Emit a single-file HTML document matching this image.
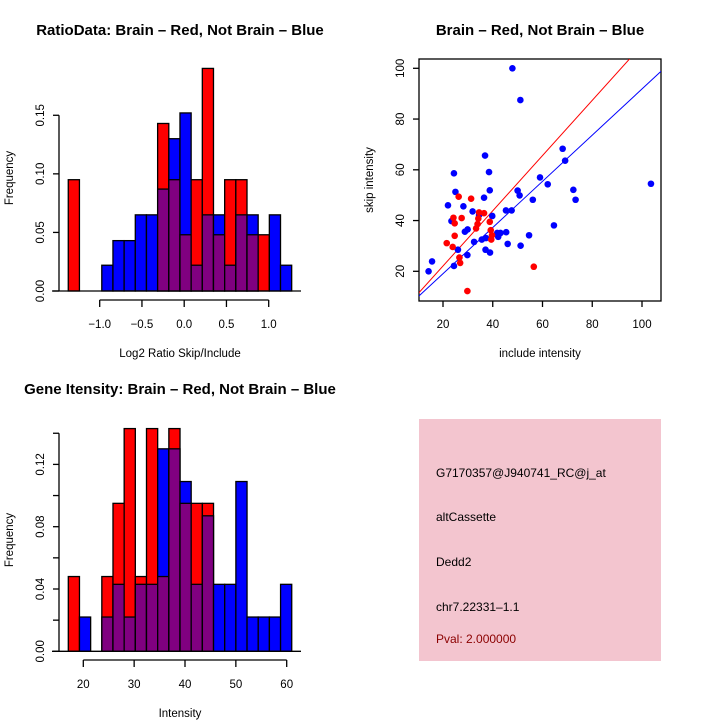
<!DOCTYPE html>
<html><head><meta charset="utf-8"><style>
html,body{margin:0;padding:0;background:#fff;}
svg{display:block;font-family:"Liberation Sans",sans-serif;}
</style></head><body>
<svg id="svg" width="720" height="720" viewBox="0 0 720 720" xmlns="http://www.w3.org/2000/svg">
<rect width="720" height="720" fill="#fff"/>
<text x="180" y="35" font-size="15" font-weight="bold" text-anchor="middle">RatioData: Brain – Red, Not Brain – Blue</text>
<text x="540" y="35" font-size="15" font-weight="bold" text-anchor="middle">Brain – Red, Not Brain – Blue</text>
<text x="180" y="394" font-size="15" font-weight="bold" text-anchor="middle">Gene Itensity: Brain – Red, Not Brain – Blue</text>
<text x="180" y="357" font-size="11.5" text-anchor="middle">Log2 Ratio Skip/Include</text>
<text transform="translate(13,178) rotate(-90)" font-size="11.5" text-anchor="middle">Frequency</text>
<text x="180" y="717" font-size="11.5" text-anchor="middle">Intensity</text>
<text transform="translate(13,540) rotate(-90)" font-size="11.5" text-anchor="middle">Frequency</text>
<text x="540" y="357" font-size="11.5" text-anchor="middle">include intensity</text>
<text transform="translate(373,180) rotate(-90)" font-size="11.5" text-anchor="middle">skip intensity</text>
<g>
<rect x="419" y="419" width="242" height="242" fill="#f3c5cf"/>
<text x="436" y="477" font-size="12">G7170357@J940741_RC@j_at</text>
<text x="436" y="521" font-size="12">altCassette</text>
<text x="436" y="566" font-size="12">Dedd2</text>
<text x="436" y="611" font-size="12">chr7.22331–1.1</text>
<text x="436" y="643" font-size="12" fill="#8b0000">Pval: 2.000000</text>
</g>
</svg>
<script>
// ratio histogram data
const ratioRed = [0.095,0,0,0,0,0,0,0,0.143,0.095,0.048,0.095,0.190,0.048,0.095,0.095,0.048,0.048,0,0];
const ratioBlue = [0,0,0,0.022,0.043,0.043,0.065,0.065,0.087,0.130,0.152,0.022,0.065,0.065,0.022,0.065,0.065,0,0.065,0.022];
const ratioBinStart = -1.372, ratioBinWidth = 0.1322;
const ratioXTicks = [-1.0,-0.5,0.0,0.5,1.0];
const ratioXLabels = ["−1.0","−0.5","0.0","0.5","1.0"];
const ratioYTicks = [0,0.05,0.10,0.15];
const ratioYLabels = ["0.00","0.05","0.10","0.15"];
// intensity histogram data
const intRed = [0.048,0,0,0.048,0.095,0.143,0.048,0.143,0.048,0.143,0.095,0.095,0.095,0,0,0,0,0,0,0];
const intBlue = [0,0.022,0,0.022,0.043,0.022,0.043,0.043,0.130,0.130,0.109,0.043,0.087,0.043,0.043,0.109,0.022,0.022,0.022,0.043];
const intBinStart = 17.05, intBinWidth = 2.197;
const intXTicks = [20,30,40,50,60];
const intYTicks = [0,0.02,0.04,0.06,0.08,0.10,0.12,0.14];
const intYLabels = ["0.00","","0.04","","0.08","","0.12",""];
// scatter data
const blueX = [47.9,51.1,68.1,69.1,36.9,24.4,38.5,59.0,62.1,103.6,25.0,38.8,50.0,50.8,72.4,73.3,56.1,22.0,28.2,36.5,31.9,45.3,47.6,34.5,39.8,23.4,28.8,29.9,41.8,43.1,45.4,42.2,37.3,35.6,32.5,54.6,64.6,26.0,37.1,38.9,46.0,51.2,29.8,15.6,24.4,14.2];
const blueY = [100.0,87.5,68.3,63.6,65.6,58.6,59.1,57.0,54.3,54.5,51.3,51.9,51.8,49.9,52.1,48.2,48.2,46.0,45.6,49.0,43.6,44.0,44.0,42.2,41.8,39.8,35.6,36.5,35.1,35.1,35.4,33.6,33.1,32.5,31.6,34.2,38.1,28.5,28.5,27.4,30.8,30.1,26.4,23.9,22.1,20.0];
const redX = [26.3,31.3,24.2,27.5,24.7,34.5,36.5,34.2,33.9,33.3,38.8,39.2,39.7,39.4,24.7,21.5,23.9,26.6,26.9,56.5,29.8];
const redY = [49.4,48.6,41.1,41.0,38.9,43.2,42.9,40.8,38.6,36.9,39.5,36.2,34.2,32.5,34.0,31.1,29.6,25.4,23.3,21.8,12.2];
const scatterXTicks = [20,40,60,80,100];
const scatterYTicks = [20,40,60,80,100];
const redFit = [0.33,1.088];
const blueFit = [0.85,0.91];

const NS="http://www.w3.org/2000/svg";
const svg=document.getElementById('svg');
function mk(tag,attrs,parent){const e=document.createElementNS(NS,tag);for(const k in attrs)e.setAttribute(k,attrs[k]);(parent||svg).appendChild(e);return e;}

function hist(opt){
  const g=mk('g',{});
  
  
  const {sx,sy}=opt;
  for(let i=0;i<opt.red.length;i++){
    const x0=sx(opt.start+i*opt.width), x1=sx(opt.start+(i+1)*opt.width);
    const r=opt.red[i], b=opt.blue[i];
    const hi=Math.max(r,b), lo=Math.min(r,b);
    if(hi>0){
      const bar=mk('rect',{x:x0,y:sy(hi),width:x1-x0,height:sy(0)-sy(hi),fill:r>=b?'#ff0000':'#0000ff',stroke:'#000','stroke-width':1.3},g);
      
      
    }
    if(lo>0){
      const ov=mk('rect',{x:x0,y:sy(lo),width:x1-x0,height:sy(0)-sy(lo),fill:'#800080',stroke:'#000','stroke-width':1.3},g);
      
      
    }
  }
  mk('line',{x1:opt.baseX0,x2:opt.baseX1,y1:sy(0),y2:sy(0),stroke:'#000','stroke-width':1.3},g);
  const ya=mk('g',{},g);
  
  
  const yt=opt.yTicks;
  mk('line',{x1:59,x2:59,y1:sy(yt[0]),y2:sy(yt[yt.length-1]),stroke:'#000','stroke-width':1.3},ya);
  yt.forEach((v,i)=>{
    mk('line',{x1:53,x2:59,y1:sy(v),y2:sy(v),stroke:'#000','stroke-width':1.3},ya);
    if(opt.yLabels[i]){const t=mk('text',{transform:`translate(44,${sy(v)}) rotate(-90)`,'font-size':11.5,'text-anchor':'middle'},ya);t.textContent=opt.yLabels[i];
      
      }
  });
  const xa=mk('g',{},g);
  
  
  const xt=opt.xTicks;
  mk('line',{x1:sx(xt[0]),x2:sx(xt[xt.length-1]),y1:opt.axisY,y2:opt.axisY,stroke:'#000','stroke-width':1.3},xa);
  xt.forEach((v,i)=>{
    mk('line',{x1:sx(v),x2:sx(v),y1:opt.axisY,y2:opt.axisY+7,stroke:'#000','stroke-width':1.3},xa);
    const t=mk('text',{x:sx(v),y:opt.axisY+28,'font-size':11.5,'text-anchor':'middle'},xa);t.textContent=opt.xLabels[i];
    
    
  });
}

hist({name:'ratio-histogram',red:ratioRed,blue:ratioBlue,start:ratioBinStart,width:ratioBinWidth,
  sx:v=>184.2+v*84.5, sy:v=>291-v*1171.5, baseX0:52, baseX1:301, axisY:300,
  xTicks:ratioXTicks,xLabels:ratioXLabels,yTicks:ratioYTicks,yLabels:ratioYLabels});
hist({name:'intensity-histogram',red:intRed,blue:intBlue,start:intBinStart,width:intBinWidth,
  sx:v=>83.3+(v-20)*5.085, sy:v=>651.3-v*1557.5, baseX0:52, baseX1:301, axisY:660,
  xTicks:intXTicks,xLabels:intXTicks.map(String),yTicks:intYTicks,yLabels:intYLabels});

const sg=mk('g',{});


const px=v=>443+(v-20)*2.4875, py=v=>271.3-(v-20)*2.5375;
const clip=mk('clipPath',{id:'sc'},sg);mk('rect',{x:419,y:59,width:242,height:242},clip);
const box=mk('rect',{x:419,y:59,width:242,height:242,fill:'none',stroke:'#000','stroke-width':1.3},sg);


scatterXTicks.forEach(v=>{
  mk('line',{x1:px(v),x2:px(v),y1:301,y2:307,stroke:'#000','stroke-width':1.3},sg);
  const t=mk('text',{x:px(v),y:328,'font-size':11.5,'text-anchor':'middle'},sg);t.textContent=v;
  
  
});
scatterYTicks.forEach(v=>{
  mk('line',{x1:413,x2:419,y1:py(v),y2:py(v),stroke:'#000','stroke-width':1.3},sg);
  const t=mk('text',{transform:`translate(404,${py(v)}) rotate(-90)`,'font-size':11.5,'text-anchor':'middle'},sg);t.textContent=v;
  
  
});
const lg=mk('g',{'clip-path':'url(#sc)'},sg);
[[redFit,'#ff0000','red-fit-line'],[blueFit,'#0000ff','blue-fit-line']].forEach(([f,c,n])=>{
  const l=mk('line',{x1:px(0),y1:py(f[0]),x2:px(120),y2:py(f[0]+f[1]*120),stroke:c,'stroke-width':1},lg);
  
  
});
blueX.forEach((x,i)=>{
  const c=mk('circle',{cx:px(x),cy:py(blueY[i]),r:3.3,fill:'#0000ff'},lg);
  
  
});
redX.forEach((x,i)=>{
  const c=mk('circle',{cx:px(x),cy:py(redY[i]),r:3.3,fill:'#ff0000'},lg);
  
  
});
</script>
</body></html>
